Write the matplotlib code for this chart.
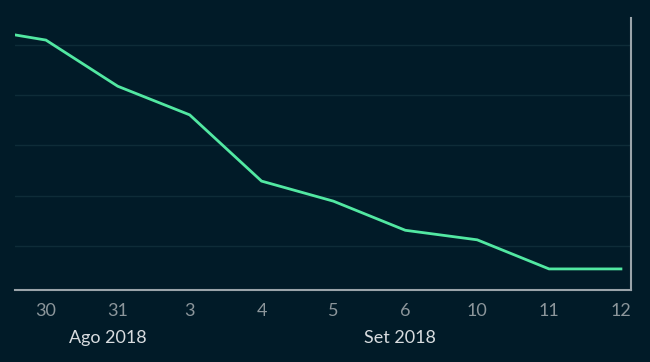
import matplotlib
matplotlib.use("Agg")
import matplotlib.pyplot as plt

# dates shown on the x axis (category positions), plus a partial point before the first tick
labels = ["30", "31", "3", "4", "5", "6", "10", "11", "12"]
values = [5.10, 4.18, 3.61, 2.29, 1.89, 1.31, 1.12, 0.54, 0.54]
prev_value = 5.34  # 29 Ago, clipped at the left edge
months = [("Ago 2018", 0.166), ("Set 2018", 0.615)]

BG = "#011b28"
LINE = "#52e8a2"
GRID = "#0e2c38"
SPINE = "#9aa4aa"

plt.rcParams["font.family"] = ["Lato", "DejaVu Sans"]

fig = plt.figure(figsize=(6.5, 3.62), dpi=100, facecolor=BG)
ax = fig.add_axes([15 / 650, 1 - 290 / 362, (631 - 15) / 650, (290 - 18) / 362])
ax.set_facecolor(BG)

xs = list(range(-1, len(values)))
ax.plot(xs, [prev_value] + values, color=LINE, lw=2, solid_joinstyle="miter", zorder=3)

ax.set_xlim(-0.43, 8.14)
ax.set_ylim(0.12, 5.54)
ax.set_yticks([1, 2, 3, 4, 5])
ax.yaxis.grid(True, color=GRID, lw=1)
ax.tick_params(axis="y", left=False, right=False, labelleft=False)

ax.set_xticks(range(len(labels)))
ax.set_xticklabels(labels)
ax.tick_params(axis="x", length=0, pad=9, labelsize=13, labelcolor="#8c969b")

for s in ["left", "top"]:
    ax.spines[s].set_visible(False)
for s in ["bottom", "right"]:
    ax.spines[s].set_color(SPINE)
    ax.spines[s].set_linewidth(1.5)

for name, xpos in months:
    fig.text(xpos, 1 - 338 / 362, name, ha="center", va="center",
             fontsize=13, color="#d8dcdf")

fig.savefig("out.png", dpi=100, facecolor=BG)
